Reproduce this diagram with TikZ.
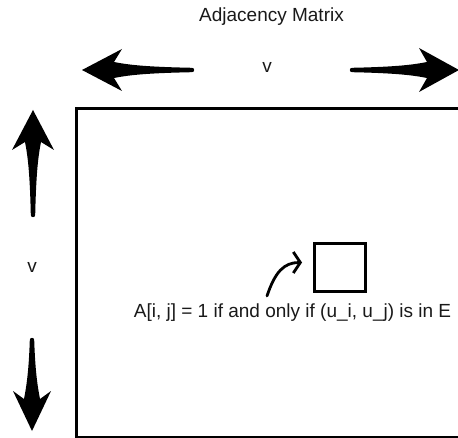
\documentclass[tikz,border=0pt]{standalone}
\usepackage{fontspec}
\setmainfont{Liberation Sans}
\usetikzlibrary{arrows.meta}
\newcommand{\fatarrowshape}[5]{% #1 tail coord, #2 angle, #3 length, #4 head half width, #5 name
  \begin{scope}[shift={#1}, rotate=#2]
    \fill[black] (0,-2.2) arc[start angle=270, end angle=90, radius=2.2]
      .. controls ({#3-60},3.2) and ({#3-45},5.5) .. ({#3-32},8)
      -- ({#3-40},#4) -- (#3,0) coordinate (#5) -- ({#3-40},-#4) -- ({#3-32},-8)
      .. controls ({#3-45},-5.5) and ({#3-60},-3.2) .. (0,-2.2) -- cycle;
  \end{scope}}
\tikzset{
  lbl/.style={font=\fontsize{19}{22}\selectfont, text=black!90, inner sep=0pt, anchor=base},
  frame/.style={draw=black, line width=3.2pt},
  cell/.style={draw=black, line width=3pt, minimum width=51pt, minimum height=48pt, inner sep=0pt},
  curvarrow/.style={line width=2.8pt, line cap=round, line join=round, -{Straight Barb[length=7pt,width=21pt,line width=2.8pt]}}
}
\begin{document}
\begin{tikzpicture}[x=1pt,y=1pt,yscale=-1]
\useasboundingbox (0,0) rectangle (458,438);
\node[lbl] (title) at (271.5,22) {Adjacency Matrix};
\node[lbl] (vtop) at (267,73) {v};
\node[lbl] (vleft) at (32,273) {v};
% big arrows
\fatarrowshape{(192,70)}{180}{110}{21}{tipL}
\fatarrowshape{(352,70)}{0}{107}{22}{tipR}
\fatarrowshape{(33,215)}{-90}{105}{21}{tipU}
\fatarrowshape{(32,340)}{90}{91}{19}{tipD}
% matrix frame
\node[frame, anchor=north west, minimum width=400pt, minimum height=329pt, inner sep=0pt] (matrix) at (75,107) {};
% cell
\node[cell] (cell) at (339.5,268) {};
\node[lbl] (rule) at (292.5,318) {A[i, j] = 1 if and only if (u\_i, u\_j) is in E};
\coordinate (cstart) at (267,296);
\coordinate (cend) at (302,262.5);
\draw[curvarrow] (cstart) .. controls (275,272) and (284,262.5) .. (cend);
\end{tikzpicture}
\end{document}
